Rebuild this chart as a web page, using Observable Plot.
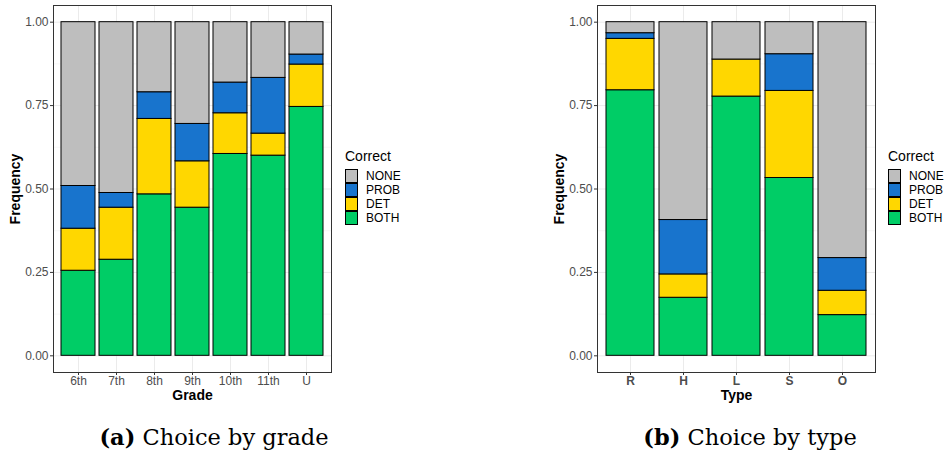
<!DOCTYPE html>
<html>
<head>
<meta charset="utf-8">
<script src="https://cdn.jsdelivr.net/npm/d3@7"></script>
<script src="https://cdn.jsdelivr.net/npm/@observablehq/plot@0.6"></script>
<style>
  html, body { margin: 0; padding: 0; background: #fff; }
  #root { position: relative; width: 946px; height: 458px; overflow: hidden; background: #fff; font-family: "Liberation Sans", Arial, sans-serif; }
  .panel { position: absolute; top: 0; }
  .panel svg { overflow: visible; font-family: "Liberation Sans", Arial, sans-serif !important; font-size: 12px !important; }
  .panel svg text { font-family: "Liberation Sans", Arial, sans-serif; }
  .panel g[aria-label="y-axis tick label"], .panel g[aria-label="x-axis tick label"] { fill: #4D4D4D; font-size: 12px; }
  .panel g[aria-label="y-axis tick"], .panel g[aria-label="x-axis tick"] { stroke: #333333; }
  .panel g[aria-label="y-axis label"], .panel g[aria-label="x-axis label"] { font-weight: bold; font-size: 14px; fill: #000; }
  #right g[aria-label="x-axis tick label"] { font-weight: bold; }
  .legend { position: absolute; font-family: "Liberation Sans", Arial, sans-serif; }
  .legend .title { font-size: 14px; color: #000; margin-bottom: 5px; }
  .legend .row { display: flex; align-items: center; height: 14px; }
  .legend .key { width: 13px; height: 14px; box-sizing: border-box; border: 1px solid #000; margin-right: 8px; }
  .legend .lab { font-size: 12px; color: #000; line-height: 14px; }
  .caption { position: absolute; font-family: "DejaVu Serif", "Liberation Serif", serif; font-size: 22.5px; color: #000; white-space: nowrap; text-align: center; width: 300px; line-height: 26px; }
</style>
</head>
<body>
<div id="root">
  <div id="left" class="panel" style="left:0px"></div>
  <div id="right" class="panel" style="left:544px"></div>
  <div id="legL" class="legend" style="left:345px; top:148px"></div>
  <div id="legR" class="legend" style="left:888px; top:148px"></div>
  <div class="caption" style="left:64px; top:424px"><b>(a)</b> Choice by grade</div>
  <div class="caption" style="left:600px; top:424px"><b>(b)</b> Choice by type</div>
</div>
<script>
// ---- data ----
const levels = ["NONE", "PROB", "DET", "BOTH"];
const levelColors = ["#BEBEBE", "#1874CD", "#FFD700", "#00CD66"];

const grades = ["6th", "7th", "8th", "9th", "10th", "11th", "U"];
const gradeBoth = [0.255, 0.288, 0.484, 0.444, 0.605, 0.600, 0.746];
const gradeDet  = [0.126, 0.156, 0.226, 0.139, 0.122, 0.066, 0.127];
const gradeProb = [0.128, 0.044, 0.080, 0.112, 0.092, 0.167, 0.030];
const gradeNone = [0.491, 0.512, 0.210, 0.305, 0.181, 0.167, 0.097];

const types = ["R", "H", "L", "S", "O"];
const typeBoth = [0.796, 0.174, 0.777, 0.533, 0.122];
const typeDet  = [0.154, 0.070, 0.111, 0.261, 0.073];
const typeProb = [0.017, 0.163, 0.000, 0.110, 0.098];
const typeNone = [0.033, 0.593, 0.112, 0.096, 0.707];

const majorTicks = [0, 0.25, 0.5, 0.75, 1];
const minorTicks = [0.125, 0.375, 0.625, 0.875];

function longData(cats, both, det, prob, none) {
  const out = [];
  cats.forEach((c, i) => {
    out.push({cat: c, correct: "BOTH", value: both[i]});
    out.push({cat: c, correct: "DET", value: det[i]});
    out.push({cat: c, correct: "PROB", value: prob[i]});
    out.push({cat: c, correct: "NONE", value: none[i]});
  });
  return out;
}

function panel(cats, data, xLabel) {
  return Plot.plot({
    width: 332,
    height: 405,
    marginLeft: 53,
    marginRight: 1,
    marginTop: 5,
    marginBottom: 33,
    style: {background: "white", overflow: "visible"},
    x: {domain: cats, paddingInner: 0.1, paddingOuter: 0.15, label: xLabel},
    y: {domain: [-0.05, 1.05], label: "Frequency"},
    color: {domain: levels, range: levelColors},
    marks: [
      Plot.gridY(minorTicks, {stroke: "#F2F2F2", strokeOpacity: 1, strokeWidth: 0.6}),
      Plot.gridY(majorTicks, {stroke: "#EBEBEB", strokeOpacity: 1, strokeWidth: 1}),
      Plot.gridX({stroke: "#EBEBEB", strokeOpacity: 1, strokeWidth: 1}),
      Plot.barY(data, {x: "cat", y: "value", fill: "correct", stroke: "#000", strokeWidth: 1}),
      Plot.frame({stroke: "#333333", strokeWidth: 1}),
      Plot.axisY({ticks: majorTicks, tickFormat: d3.format(".2f"), tickSize: 3, tickPadding: 2, fontSize: 12, label: "Frequency", labelAnchor: "center", labelArrow: "none", labelOffset: 43}),
      Plot.axisX({tickSize: 3, tickPadding: 1, fontSize: 12, label: xLabel, labelAnchor: "center", labelArrow: "none", labelOffset: 27})
    ]
  });
}

document.getElementById("left").appendChild(panel(grades, longData(grades, gradeBoth, gradeDet, gradeProb, gradeNone), "Grade"));
document.getElementById("right").appendChild(panel(types, longData(types, typeBoth, typeDet, typeProb, typeNone), "Type"));

function legend(id) {
  const el = document.getElementById(id);
  let html = '<div class="title">Correct</div>';
  levels.forEach((l, i) => {
    html += `<div class="row"><div class="key" style="background:${levelColors[i]}"></div><div class="lab">${l}</div></div>`;
  });
  el.innerHTML = html;
}
legend("legL");
legend("legR");
</script>
</body>
</html>
